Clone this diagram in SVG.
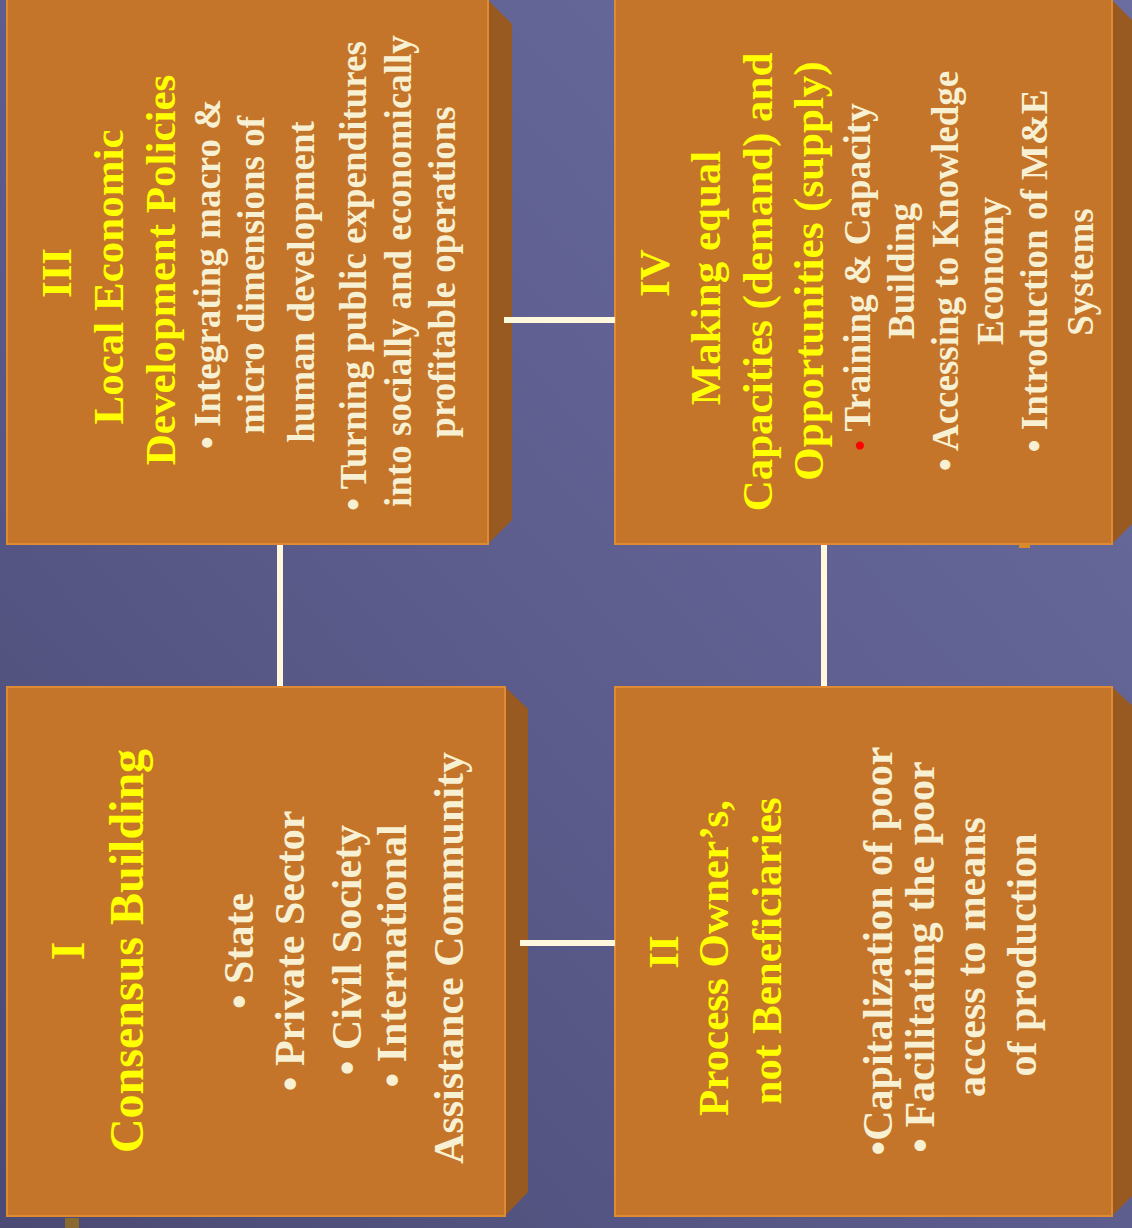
<svg xmlns="http://www.w3.org/2000/svg" width="1132" height="1228" viewBox="0 0 1132 1228">
<defs>
<linearGradient id="bg" x1="1" y1="0" x2="0" y2="1">
<stop offset="0" stop-color="#6B6DA1"/>
<stop offset="0.5" stop-color="#5D5E8E"/>
<stop offset="1" stop-color="#4A4A74"/>
</linearGradient>
<style>
.front{fill:#C47529;stroke:#E08A33;stroke-width:2}
.side{fill:#985A20}
.conn{stroke:#FFF8DC;stroke-width:6;fill:none}
text{font-family:"Liberation Serif","Times New Roman",serif;font-weight:bold;text-anchor:middle}
.t{fill:#FFFF00}
.b{fill:#F8F0D2}
.t43{font-size:43px}
.t48{font-size:48px}
.b37{font-size:37px}
.b42{font-size:42px}
</style>
</defs>
<rect x="0" y="0" width="1132" height="1228" fill="url(#bg)"/>
<g id="node-III">
<polygon class="side" points="488,0 512,24 512,520 488,544"/>
<rect class="front" x="7" y="-2" width="481" height="546"/>
<g transform="rotate(-90)">
<text class="t t43" x="-273" y="71">III</text>
<text class="t t43" x="-277" y="123">Local Economic</text>
<text class="t t43" x="-270" y="175">Development Policies</text>
<text class="b b37" x="-274" y="220">• Integrating macro &amp;</text>
<text class="b b37" x="-275" y="264">micro dimensions of</text>
<text class="b b37" x="-282" y="314">human development</text>
<text class="b b37" x="-276" y="366">• Turning public expenditures</text>
<text class="b b37" x="-271" y="411">into socially and economically</text>
<text class="b b37" x="-272" y="455">profitable operations</text>
</g>
</g>
<g id="node-IV">
<polygon class="side" points="1112,0 1136,24 1136,520 1112,544"/>
<rect class="front" x="615" y="-2" width="497" height="546"/>
<rect x="1019" y="544" width="11" height="4" fill="#D88A2A"/>
<g transform="rotate(-90)">
<text class="t t43" x="-273" y="669">IV</text>
<text class="t t43" x="-278" y="720">Making equal</text>
<text class="t t43" x="-282" y="772">Capacities (demand) and</text>
<text class="t t43" x="-271" y="823">Opportunities (supply)</text>
<text class="b b37" x="-277" y="870"><tspan fill="#FF0000" font-size="30">•</tspan> Training &amp; Capacity</text>
<text class="b b37" x="-271" y="914">Building</text>
<text class="b b37" x="-271" y="958">• Accessing to Knowledge</text>
<text class="b b37" x="-271" y="1003">Economy</text>
<text class="b b37" x="-271" y="1047">• Introduction of M&amp;E</text>
<text class="b b37" x="-272" y="1093">Systems</text>
</g>
</g>
<g id="node-I">
<polygon class="side" points="505,687 528,709 528,1192 505,1216"/>
<rect class="front" x="7" y="687" width="498" height="529"/>
<rect x="65" y="1218" width="14" height="10" fill="#8A6A30"/>
<g transform="rotate(-90)">
<text class="t t48" x="-951" y="84">I</text>
<text class="t t48" x="-951" y="143">Consensus Building</text>
<text class="b b42" x="-951" y="253">• State</text>
<text class="b b42" x="-951" y="304">• Private Sector</text>
<text class="b b42" x="-950" y="361">• Civil Society</text>
<text class="b b42" x="-956" y="406">• International</text>
<text class="b b42" x="-958" y="463">Assistance Community</text>
</g>
</g>
<g id="node-II">
<polygon class="side" points="1112,687 1136,709 1136,1192 1112,1216"/>
<rect class="front" x="615" y="687" width="497" height="529"/>
<g transform="rotate(-90)">
<text class="t t43" x="-952" y="678">II</text>
<text class="t t43" x="-958" y="728">Process Owner’s,</text>
<text class="t t43" x="-951" y="781">not Beneficiaries</text>
<text class="b b42" x="-951" y="892">•Capitalization of poor</text>
<text class="b b42" x="-957" y="934">• Facilitating the poor</text>
<text class="b b42" x="-957" y="985">access to means</text>
<text class="b b42" x="-955" y="1036">of production</text>
</g>
</g>
<g id="connectors">
<line class="conn" x1="504" y1="320" x2="615" y2="320"/>
<line class="conn" x1="280" y1="545" x2="280" y2="686"/>
<line class="conn" x1="824" y1="545" x2="824" y2="686"/>
<line class="conn" x1="520" y1="943" x2="615" y2="943"/>
</g>
</svg>
